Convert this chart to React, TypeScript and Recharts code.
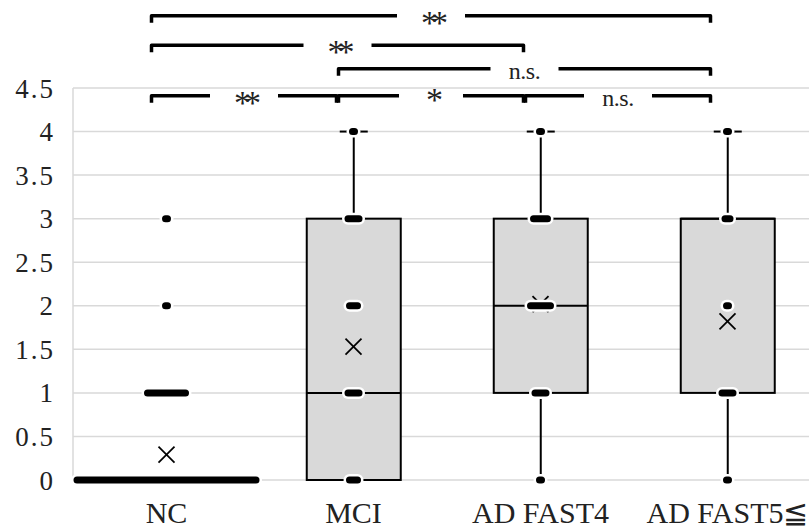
import React from "react";
import { Bar, CartesianGrid, ComposedChart, ReferenceLine, Scatter, XAxis, YAxis } from "recharts";

const CATEGORIES = ["NC", "MCI", "AD FAST4", "AD FAST5≦"];
const MIN_VALUES = [0, 0, 0, 0];
const Q1_VALUES = [0, 0, 1, 1];
const MEDIAN_VALUES = [0, 1, 2, 3];
const Q3_VALUES = [0, 3, 3, 3];
const MAX_VALUES = [0, 4, 4, 4];
const MEAN_VALUES = [0.29, 1.53, 2.02, 1.82];

// [score, how many observations overlap at that score]
const NC_POINTS = [[0, 60], [1, 13], [2, 1], [3, 1]];
const MCI_POINTS = [[0, 3], [1, 4], [2, 3], [3, 4], [4, 1]];
const FAST4_POINTS = [[0, 1], [1, 4], [2, 7], [3, 5], [4, 1]];
const FAST5_POINTS = [[0, 1], [1, 4], [2, 1], [3, 2], [4, 1]];
const POINTS_BY_CATEGORY = [NC_POINTS, MCI_POINTS, FAST4_POINTS, FAST5_POINTS];

const Y_TICKS = [0, 0.5, 1, 1.5, 2, 2.5, 3, 3.5, 4, 4.5];

const COMPARISONS = [
  { from: "NC", to: "AD FAST5≦", label: "**", tier: 3 },
  { from: "NC", to: "AD FAST4", label: "**", tier: 2 },
  { from: "MCI", to: "AD FAST5≦", label: "n.s.", tier: 1 },
  { from: "NC", to: "MCI", label: "**", tier: 0 },
  { from: "MCI", to: "AD FAST4", label: "*", tier: 0 },
  { from: "AD FAST4", to: "AD FAST5≦", label: "n.s.", tier: 0 },
];
const TIER_Y = [4.41, 4.72, 4.99, 5.33];

const boxData = CATEGORIES.map((name, i) => ({
  name,
  min: MIN_VALUES[i],
  q1: Q1_VALUES[i],
  median: MEDIAN_VALUES[i],
  q3: Q3_VALUES[i],
  max: MAX_VALUES[i],
}));
const meanData = CATEGORIES.map((name, i) => ({ name, mean: MEAN_VALUES[i] }));
const pointData = CATEGORIES.flatMap((name, i) =>
  POINTS_BY_CATEGORY[i].map(([value, count]) => ({ name, value, count }))
);

const SERIF = "'Liberation Serif', 'DejaVu Serif', serif";
const TEXT = "#222";

function BoxShape(props: any) {
  const { x, y, width, height, payload } = props;
  const { q1, q3, min, max, median } = payload;
  if (q3 <= q1) return <g />;
  const top = Math.min(y, y + height);
  const h = Math.abs(height);
  const perUnit = h / (q3 - q1);
  const py = (v: number) => top + (q3 - v) * perUnit;
  const cx = x + width / 2;
  return (
    <g>
      <line x1={cx} x2={cx} y1={py(max)} y2={top} stroke="#000" strokeWidth={2} />
      <line x1={cx} x2={cx} y1={top + h} y2={py(min)} stroke="#000" strokeWidth={2} />
      <line x1={cx - 14} x2={cx + 14} y1={py(max)} y2={py(max)} stroke="#000" strokeWidth={2} />
      <rect x={x} y={top} width={width} height={h} fill="#d9d9d9" stroke="#000" strokeWidth={2} />
      <line x1={x} x2={x + width} y1={py(median)} y2={py(median)} stroke="#000" strokeWidth={2} />
    </g>
  );
}

function MeanShape(props: any) {
  const { cx, cy } = props;
  const r = 8;
  return (
    <g stroke="#000" strokeWidth={1.8}>
      <line x1={cx - r} y1={cy - r} x2={cx + r} y2={cy + r} />
      <line x1={cx - r} y1={cy + r} x2={cx + r} y2={cy - r} />
    </g>
  );
}

function PointShape(props: any) {
  const { cx, cy, payload } = props;
  const w = 6 + 3 * payload.count;
  const h = 7;
  const halo = 2.5;
  return (
    <g>
      <rect x={cx - w / 2 - halo} y={cy - h / 2 - halo} width={w + 2 * halo} height={h + 2 * halo} rx={h / 2 + halo} fill="#fff" />
      <rect x={cx - w / 2} y={cy - h / 2} width={w} height={h} rx={h / 2} fill="#000" />
    </g>
  );
}

function Bracket(props: any) {
  const { x1, y1, x2, label } = props;
  const xs = x1 - 15;
  const xe = x2 - 17;
  const y = y1;
  const mid = (xs + xe) / 2;
  const gap = label === "*" ? 32 : 34;
  const tick = 7;
  const d = `M${xs},${y + tick} L${xs},${y} L${mid - gap},${y} M${mid + gap},${y} L${xe},${y} L${xe},${y + tick}`;
  let text;
  if (label === "n.s.") {
    text = (
      <text x={mid} y={y + 10} textAnchor="middle" fontFamily={SERIF} fontSize={24} letterSpacing={-0.5} fill={TEXT}>
        n.s.
      </text>
    );
  } else {
    text = (
      <text x={mid} y={y + (label === "*" ? 15 : 18)} textAnchor="middle" fontFamily={SERIF} fontSize={34} letterSpacing={-7} fill={TEXT}>
        {label}
      </text>
    );
  }
  return (
    <g>
      <path d={d} fill="none" stroke="#000" strokeWidth={3.5} strokeLinejoin="round" />
      {text}
    </g>
  );
}

export default function App() {
  return (
    <div style={{ position: "absolute", left: 0, top: 0, width: 809, height: 529, overflow: "hidden", background: "#fff" }}>
      <ComposedChart width={829} height={529} data={boxData} margin={{ top: 88, right: 8, bottom: 0, left: 0 }} barCategoryGap="25%">
        <CartesianGrid vertical={false} stroke="#d9d9d9" strokeWidth={1.5} />
        <XAxis
          dataKey="name"
          type="category"
          allowDuplicatedCategory={false}
          axisLine={false}
          tickLine={false}
          tickSize={0}
          tickMargin={22}
          height={49}
          interval={0}
          tick={{ fontFamily: SERIF, fontSize: 30, fill: TEXT }}
        />
        <YAxis
          type="number"
          domain={[0, 4.5]}
          ticks={Y_TICKS}
          width={73}
          axisLine={{ stroke: "#d9d9d9", strokeWidth: 1.5 }}
          tickLine={false}
          tickSize={0}
          tickMargin={18}
          tick={{ fontFamily: SERIF, fontSize: 27, fill: TEXT, letterSpacing: 2 }}
        />
        <Bar dataKey={(d: any) => [d.q1, d.q3]} shape={BoxShape} isAnimationActive={false} />
        <Scatter data={meanData} dataKey="mean" shape={MeanShape} isAnimationActive={false} />
        <Scatter data={pointData} dataKey="value" shape={PointShape} isAnimationActive={false} />
        {COMPARISONS.map((c, i) => (
          <ReferenceLine
            key={i}
            segment={[
              { x: c.from, y: TIER_Y[c.tier] },
              { x: c.to, y: TIER_Y[c.tier] },
            ]}
            ifOverflow="visible"
            shape={(p: any) => <Bracket {...p} label={c.label} />}
          />
        ))}
      </ComposedChart>
    </div>
  );
}
